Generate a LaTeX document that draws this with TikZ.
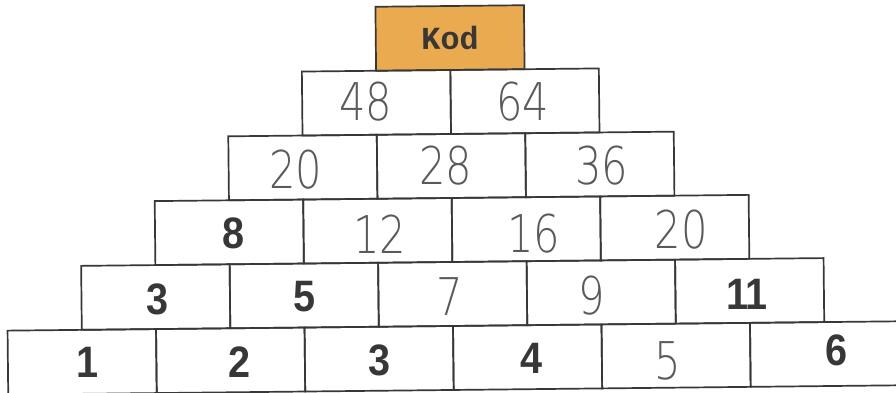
\documentclass[tikz,border=0pt]{standalone}
\usepackage{fontspec}
\setmainfont{Liberation Sans}
\newfontfamily\thinfont{DejaVu Sans ExtraLight}
\newfontfamily\kodfont{Liberation Mono}
\definecolor{ink}{RGB}{55,55,55}
\definecolor{pencil}{RGB}{90,90,90}
\definecolor{kodfill}{RGB}{233,170,80}
\begin{document}
\begin{tikzpicture}[x=1pt,y=-1pt,
  brick/.style={draw=ink, line width=1.7pt, minimum width=148.5pt, minimum height=64pt, inner sep=0pt, outer sep=0pt},
  kodbox/.style={brick, fill=kodfill, text=ink, font=\kodfont\bfseries\fontsize{32}{32}\selectfont},
  boldnum/.style={text=ink, font=\bfseries\fontsize{44}{44}\selectfont, inner sep=0pt, xscale=0.9},
  thinnum/.style={text=pencil, font=\thinfont\fontsize{52}{52}\selectfont, inner sep=0pt, xscale=0.8},
]
\useasboundingbox (0,0) rectangle (896,393);
\clip (0,0) rectangle (896,393);
\fill[white] (0,0) rectangle (896,393);
\begin{scope}[rotate around={0.6:(450,38)}, transform shape]
  \node[kodbox] (kod) at (450,38) {Kod};
  % row 2
  \node[brick] (b21) at (375.75,102) {};
  \node[brick] (b22) at (524.25,102) {};
  % row 3
  \node[brick] (b31) at (301.5,166) {};
  \node[brick] (b32) at (450,166) {};
  \node[brick] (b33) at (598.5,166) {};
  % row 4
  \node[brick] (b41) at (227.25,230) {};
  \node[brick] (b42) at (375.75,230) {};
  \node[brick] (b43) at (524.25,230) {};
  \node[brick] (b44) at (672.75,230) {};
  % row 5
  \node[brick] (b51) at (153,294) {};
  \node[brick] (b52) at (301.5,294) {};
  \node[brick] (b53) at (450,294) {};
  \node[brick] (b54) at (598.5,294) {};
  \node[brick] (b55) at (747,294) {};
  % row 6
  \node[brick] (b61) at (78.75,358) {};
  \node[brick] (b62) at (227.25,358) {};
  \node[brick] (b63) at (375.75,358) {};
  \node[brick] (b64) at (524.25,358) {};
  \node[brick] (b65) at (672.75,358) {};
  \node[brick] (b66) at (821.25,358) {};
\end{scope}
% numbers
\node[thinnum] (t21) at (365.5,102) {48};
\node[thinnum] (t22) at (522.5,102) {64};
\node[thinnum] (t31) at (296,170) {20};
\node[thinnum] (t32) at (446,166) {28};
\node[thinnum] (t33) at (601.5,166) {36};
\node[boldnum] (t41) at (234,233.5) {8};
\node[thinnum] (t42) at (379.5,234.5) {12};
\node[thinnum] (t43) at (534,233.5) {16};
\node[thinnum] (t44) at (681,230) {20};
\node[boldnum] (t51) at (158,299) {3};
\node[boldnum] (t52) at (304.5,297) {5};
\node[thinnum] (t53) at (449.5,297) {7};
\node[thinnum] (t54) at (592,296) {9};
\node[boldnum] (t55) at (747,294) {11};
\node[boldnum] (t61) at (88,362) {1};
\node[boldnum] (t62) at (240,362) {2};
\node[boldnum] (t63) at (380,360) {3};
\node[boldnum] (t64) at (532,358) {4};
\node[thinnum] (t65) at (668,361) {5};
\node[boldnum] (t66) at (836,350.5) {6};
\end{tikzpicture}
\end{document}
